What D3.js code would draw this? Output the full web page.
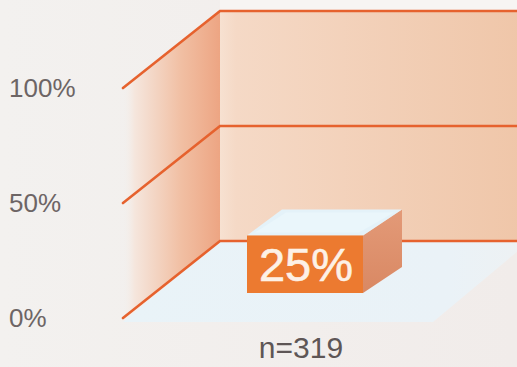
<!DOCTYPE html>
<html>
<head>
<meta charset="utf-8">
<script src="https://cdn.jsdelivr.net/npm/d3@7"></script>
<style>
  html, body { margin: 0; padding: 0; background: #f2efed; }
  svg { display: block; }
</style>
</head>
<body>
<svg id="chart" width="517" height="367"></svg>
<script>
// Data
const categories = ["n=319"];
const values = [25];
const tickValues = [0, 50, 100];
const tickLabels = ["0%", "50%", "100%"];

const W = 517, H = 367;
const svg = d3.select("#chart");
const defs = svg.append("defs");

// Value scale along the front edge of the box
const y = d3.scaleLinear().domain([0, 100]).range([318, 88]);
// Front edge x and the depth offset to the back wall
const frontX = 123;
const depth = { dx: 97, dy: -77 };
const backRight = 540;

// Category placement on the floor
const x = d3.scaleBand().domain(categories).range([247, 363]).padding(0);
const barLift = 25;          // bar sits part-way into the floor
const barDepth = { dx: 39, dy: -26 };

// Background
const bg = defs.append("linearGradient").attr("id", "bg").attr("x1", 0).attr("y1", 0).attr("x2", 1).attr("y2", 0);
bg.append("stop").attr("offset", "0%").attr("stop-color", "#f3f1ef");
bg.append("stop").attr("offset", "100%").attr("stop-color", "#f1ecea");
svg.append("rect").attr("width", W).attr("height", H).attr("fill", "url(#bg)");
svg.append("rect").attr("x", 220).attr("y", 0).attr("width", W - 220).attr("height", 11).attr("fill", "#f7f5f3");

// Back wall
const backG = defs.append("linearGradient").attr("id", "back").attr("x1", 0).attr("y1", 0).attr("x2", 1).attr("y2", 0);
backG.append("stop").attr("offset", "0%").attr("stop-color", "#f7e1d1");
backG.append("stop").attr("offset", "5%").attr("stop-color", "#f5d9c6");
backG.append("stop").attr("offset", "100%").attr("stop-color", "#efc5a7");
svg.append("rect")
  .attr("x", frontX + depth.dx).attr("y", y(100) + depth.dy)
  .attr("width", backRight - frontX - depth.dx)
  .attr("height", y(0) - y(100))
  .attr("fill", "url(#back)");

// Side wall
const sideG = defs.append("linearGradient").attr("id", "side").attr("x1", 0).attr("y1", 0).attr("x2", 1).attr("y2", 0);
sideG.append("stop").attr("offset", "0%").attr("stop-color", "#f3efec").attr("stop-opacity", 0);
sideG.append("stop").attr("offset", "12%").attr("stop-color", "#f5e6dd");
sideG.append("stop").attr("offset", "60%").attr("stop-color", "#f1bfa3");
sideG.append("stop").attr("offset", "100%").attr("stop-color", "#eda583");
svg.append("path")
  .attr("d", d3.line()([
    [frontX, y(100)], [frontX + depth.dx, y(100) + depth.dy],
    [frontX + depth.dx, y(0) + depth.dy], [frontX, y(0)]
  ]))
  .attr("fill", "url(#side)");

// Floor
const floorG = defs.append("linearGradient").attr("id", "floor").attr("x1", 0).attr("y1", 0).attr("x2", 1).attr("y2", 0);
floorG.append("stop").attr("offset", "0%").attr("stop-color", "#e9f3f8");
floorG.append("stop").attr("offset", "80%").attr("stop-color", "#eaf2f7");
floorG.append("stop").attr("offset", "100%").attr("stop-color", "#eef1f3");
svg.append("path")
  .attr("d", d3.line()([
    [frontX, y(0) + 4], [frontX + depth.dx, y(0) + depth.dy],
    [backRight - 10, y(0) + depth.dy], [433, y(0) + 4]
  ]))
  .attr("fill", "url(#floor)");

// Grid lines: diagonal on the side, horizontal across the back
const grid = svg.append("g").attr("stroke", "#e6622e").attr("stroke-width", 2.6)
  .attr("stroke-linecap", "round").attr("fill", "none");
tickValues.forEach(t => {
  grid.append("path").attr("d", d3.line()([
    [frontX, y(t)], [frontX + depth.dx, y(t) + depth.dy], [W + 5, y(t) + depth.dy]
  ]));
});

// Bar
const barG = svg.append("g");
categories.forEach((c, i) => {
  const x0 = x(c), x1 = x(c) + x.bandwidth();
  const base = y(0) - barLift;
  const top = base - (y(0) - y(values[i]));
  const dx = barDepth.dx, dy = barDepth.dy;

  const sideGrad = defs.append("linearGradient").attr("id", "barSide" + i)
    .attr("x1", 0).attr("y1", 0).attr("x2", 0).attr("y2", 1);
  sideGrad.append("stop").attr("offset", "0%").attr("stop-color", "#e39a78");
  sideGrad.append("stop").attr("offset", "100%").attr("stop-color", "#d98863");

  // right face
  barG.append("path").attr("d", d3.line()([
    [x1, top], [x1 + dx, top + dy], [x1 + dx, base + dy], [x1, base]
  ])).attr("fill", "url(#barSide" + i + ")");
  // top face
  barG.append("path").attr("d", d3.line()([
    [x0, top], [x0 + dx - 4, top + dy], [x1 + dx, top + dy], [x1, top]
  ])).attr("fill", "#e4f2f9");
  barG.append("path").attr("d", d3.line()([
    [x0 + 8, top - 3], [x0 + dx, top + dy + 3], [x1 + dx - 8, top + dy + 3], [x1 - 4, top - 3]
  ])).attr("fill", "#eaf6fb");
  // front face
  barG.append("rect").attr("x", x0).attr("y", top)
    .attr("width", x1 - x0).attr("height", base - top)
    .attr("fill", "#ec7a30");
  // value label
  barG.append("text")
    .attr("x", (x0 + x1) / 2 + 1).attr("y", top + (base - top) / 2 + 17)
    .attr("text-anchor", "middle")
    .attr("font-family", "'Liberation Sans', Arial, sans-serif")
    .attr("font-size", 47)
    .attr("fill", "#fdf1e6")
    .attr("stroke", "#fdf1e6").attr("stroke-width", 0.6)
    .text(values[i] + "%");
  // category label
  svg.append("text")
    .attr("x", (x0 + x1) / 2 - 4).attr("y", 358)
    .attr("text-anchor", "middle")
    .attr("font-family", "'Liberation Sans', Arial, sans-serif")
    .attr("font-size", 30)
    .attr("fill", "#5e5656")
    .text(c);
});

// Axis tick labels
svg.append("g").selectAll("text").data(tickValues).join("text")
  .attr("x", 9).attr("y", d => y(d) + 9)
  .attr("font-family", "'Liberation Sans', Arial, sans-serif")
  .attr("font-size", 26)
  .attr("fill", "#6d6565")
  .text((d, i) => tickLabels[i]);
</script>
</body>
</html>
